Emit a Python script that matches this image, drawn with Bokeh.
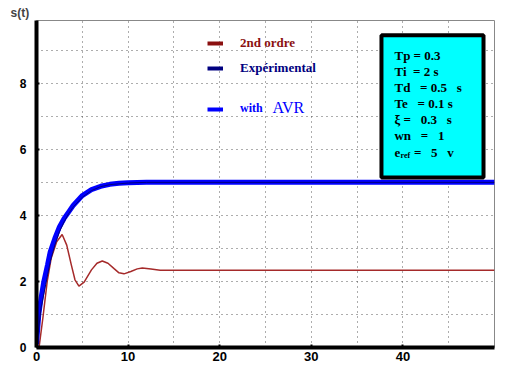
from bokeh.plotting import figure
from bokeh.models import (FixedTicker, Range1d, Label, BoxAnnotation, Legend, LegendItem, Title)
from bokeh.embed import file_html
from bokeh.resources import INLINE

# ---- data ----
t_avr = [0, 0.25, 0.5, 0.8, 1.2, 1.5, 2, 2.5, 3, 3.5, 4, 5, 6, 7, 8, 9, 10, 12, 50]
s_avr = [0.1, 1.0, 1.5, 2.0, 2.5, 2.9, 3.3, 3.65, 3.9, 4.1, 4.3, 4.6, 4.78, 4.88, 4.94, 4.97, 4.99, 5.0, 5.0]

t_exp = [0, 0.5, 1, 1.5, 2, 2.5, 3, 3.5, 4, 5, 6, 7, 8, 10, 12, 50]
s_exp = [0, 1.2, 1.9, 2.6, 3.1, 3.5, 3.8, 4.05, 4.25, 4.55, 4.75, 4.87, 4.93, 4.98, 5.0, 5.0]

t_2nd = [0, 0.3, 0.7, 1.17, 1.6, 2.2, 2.8, 3.3, 3.8, 4.2, 4.63, 5.2, 6, 6.6, 7.18, 7.8,
         8.5, 9, 9.55, 10.3, 11, 11.55, 12.5, 13.5, 50]
s_2nd = [0, 0.05, 0.9, 2.0, 2.7, 3.2, 3.42, 3.1, 2.5, 2.05, 1.86, 1.98, 2.35, 2.55, 2.62, 2.55,
         2.38, 2.26, 2.23, 2.3, 2.38, 2.41, 2.38, 2.34, 2.34]

x_ticks = [0, 10, 20, 30, 40]
y_ticks = [0, 2, 4, 6, 8]
x_grid = [5, 10, 15, 20, 25, 30, 35, 40, 45]
y_grid = [1, 2, 3, 4, 5, 6, 7, 8, 9]

legend_labels = ["2nd ordre", "Expérimental", "with"]
params = ["Tp = 0.3", "Ti  = 2 s", "Td   = 0.5   s", "Te   = 0.1 s", "ξ =   0.3   s", "wn   =   1"]

NAN = float("nan")

p = figure(width=520, height=368, output_backend="svg", toolbar_location=None,
           x_range=Range1d(0, 50), y_range=Range1d(0, 9.9),
           min_border_left=36, min_border_right=26, min_border_top=20, min_border_bottom=21)
p.background_fill_color = "white"
p.border_fill_color = "white"
p.outline_line_color = "#888888"
p.outline_line_width = 1

p.add_layout(Title(text="s(t)", align="left", offset=-26, standoff=2,
                   text_font="Liberation Sans", text_font_style="bold", text_font_size="12px"), "above")

# grid
p.xgrid.ticker = FixedTicker(ticks=x_grid)
p.ygrid.ticker = FixedTicker(ticks=y_grid)
for g in (p.xgrid, p.ygrid):
    g.grid_line_color = "#333333"
    g.grid_line_dash = "1 4"
    g.grid_line_alpha = 0.8
    g.grid_line_width = 1

# axes
p.xaxis.ticker = FixedTicker(ticks=x_ticks)
p.yaxis.ticker = FixedTicker(ticks=y_ticks)
for ax in (p.xaxis, p.yaxis):
    ax.axis_line_width = 4
    ax.axis_line_color = "black"
    ax.major_tick_in = 3
    ax.major_tick_out = 0
    ax.major_tick_line_width = 2
    ax.minor_tick_line_color = None
    ax.major_label_text_font = "Liberation Sans"
    ax.major_label_text_font_style = "bold"
    ax.major_label_text_color = "black"
p.xaxis.major_label_text_font_size = "13px"
p.yaxis.major_label_text_font_size = "12px"
p.xaxis.major_label_standoff = 4
p.yaxis.major_label_standoff = 10

# curves
p.line(t_2nd, s_2nd, line_color="#A52A2A", line_width=1.5)
p.line(t_avr, s_avr, line_color="#0000FF", line_width=5)
p.line(t_exp, s_exp, line_color="#00007F", line_width=1)

# legend samples (thick)
r_red = p.line([NAN], [NAN], line_color="#8B1010", line_width=4)
r_navy = p.line([NAN], [NAN], line_color="#000080", line_width=4)
r_blue = p.line([NAN], [NAN], line_color="#0000FF", line_width=4)

def mk_legend(r, label, color, loc, size):
    lg = Legend(items=[LegendItem(label=label, renderers=[r])], location=loc,
                background_fill_alpha=0, border_line_color=None, padding=0, margin=0,
                glyph_width=16, glyph_height=12, label_standoff=17, label_height=12,
                label_text_font="Liberation Serif", label_text_font_style="bold",
                label_text_font_size=size, label_text_color=color)
    p.add_layout(lg, "center")

mk_legend(r_red, legend_labels[0], "#8B1010", (171, 296), "13px")
mk_legend(r_navy, legend_labels[1], "#000080", (171, 271), "13px")
mk_legend(r_blue, legend_labels[2], "#0000FF", (171, 231), "12px")
p.add_layout(Label(x=25.76, y=7.27, text="AVR", text_color="#0000FF", text_font="Liberation Serif",
                   text_font_size="16px", text_baseline="middle"))

# parameter box
p.add_layout(BoxAnnotation(left=37.66, right=48.8, top=9.45, bottom=5.15,
                           fill_color="#00FFFF", fill_alpha=1, line_color="black",
                           line_alpha=1, line_width=4))
ys = [8.84, 8.36, 7.87, 7.39, 6.9, 6.42]
for txt, yy in zip(params, ys):
    p.add_layout(Label(x=39.08, y=yy, text=txt.replace(" ", "\u00a0"), text_font="Liberation Serif",
                       text_font_style="bold", text_font_size="13px", text_baseline="middle",
                       text_color="black"))
p.add_layout(Label(x=39.08, y=5.9, text="e", text_font="Liberation Serif", text_font_style="bold",
                   text_font_size="13px", text_baseline="middle", text_color="black"))
p.add_layout(Label(x=39.75, y=5.81, text="ref", text_font="Liberation Serif", text_font_style="bold",
                   text_font_size="8px", text_baseline="middle", text_color="black"))
p.add_layout(Label(x=41.2, y=5.9, text="=\u00a0\u00a0\u00a05\u00a0\u00a0\u00a0v", text_font="Liberation Serif",
                   text_font_style="bold", text_font_size="13px", text_baseline="middle", text_color="black"))

open("out.html", "w").write(file_html(p, INLINE))
